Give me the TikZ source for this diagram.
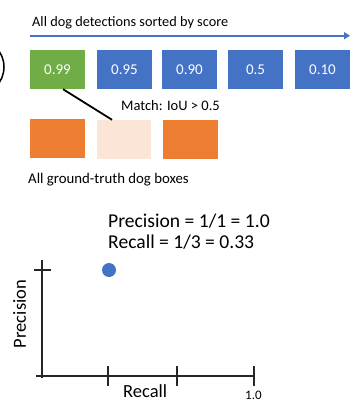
\documentclass[tikz,border=0pt]{standalone}
\usepackage{fontspec}
\setmainfont{Carlito}
\usetikzlibrary{calc,arrows.meta}
\definecolor{dgreen}{HTML}{70AD47}
\definecolor{dblue}{HTML}{4472C4}
\definecolor{gorange}{HTML}{ED7D31}
\definecolor{glight}{HTML}{FBE5D6}
\begin{document}
\begin{tikzpicture}[x=1pt,y=-1pt,
  det/.style={minimum width=55pt,minimum height=39pt,inner sep=0pt,text=white,font=\fontsize{15}{16}\selectfont},
  gt/.style={minimum width=55pt,minimum height=39pt,inner sep=0pt},
  lbl/.style={anchor=base west,inner sep=0pt},
  axis/.style={line width=1.5pt,black!85}
]
\useasboundingbox (0,0) rectangle (360,403);
\begin{scope}
\clip (0,0) rectangle (360,403);
\draw[line width=1.5pt] (-24,67) circle (28);
\end{scope}
% title and arrow
\node[lbl,font=\fontsize{14.3}{16}\selectfont] (title) at (32,26.7) {All dog detections sorted by score};
\coordinate (as) at (30,35.7);
\coordinate (ae) at (350,35.7);
\draw[dblue,line width=1.8pt,-{Triangle[length=6pt,width=7pt]}] (as) -- (ae);
% detections
\node[det,fill=dgreen] (d1) at (57.5,69.5) {0.99};
\node[det,fill=dblue] (d2) at (124.5,69.5) {0.95};
\node[det,fill=dblue] (d3) at (189.5,69.5) {0.90};
\node[det,fill=dblue] (d4) at (255.5,69.5) {0.5};
\node[det,fill=dblue] (d5) at (322.5,69.5) {0.10};
% ground truth
\node[gt,fill=gorange] (g1) at (57.5,138.5) {};
\node[gt,fill=glight,minimum width=54pt] (g2) at (124,139.5) {};
\node[gt,fill=gorange] (g3) at (190.5,139.5) {};
\draw[line width=1.8pt] ($(d1.south west)!0.6!(d1.south east)$) -- ($(g2.north west)!0.28!(g2.north east)$);
\node[lbl,font=\fontsize{14.5}{16}\selectfont] (match) at (121,110.5) {Match: IoU > 0.5};
\node[lbl,font=\fontsize{14.8}{16}\selectfont] (gtl) at (28,183) {All ground-truth dog boxes};
% formulas
\node[lbl,font=\fontsize{19.6}{21}\selectfont] (prec) at (108,227) {Precision = 1/1 = 1.0};
\node[lbl,font=\fontsize{19.6}{21}\selectfont] (rec) at (108,248.5) {Recall = 1/3 = 0.33};
% plot
\coordinate (ytop) at (42,260);
\coordinate (ybot) at (42,378);
\coordinate (xl) at (36,376);
\coordinate (xr) at (254,376);
\draw[axis] (ytop) -- (ybot);
\draw[axis] (xl) -- (xr);
\draw[axis] (34,270) -- (51,270);
\draw[axis] (108,366) -- (108,386);
\draw[axis] (177,366) -- (177,386);
\draw[axis] (254,366) -- (254,386);
\node[circle,fill=dblue,minimum size=14pt,inner sep=0pt] (pt) at (109,270) {};
\node[rotate=90,font=\fontsize{18.5}{20}\selectfont,inner sep=0pt] (ylab) at (19.5,314) {Precision};
\node[lbl,font=\fontsize{18.5}{20}\selectfont] (xlab) at (123,397) {Recall};
\node[lbl,font=\fontsize{13}{14}\selectfont] (one) at (245,399) {1.0};
\end{tikzpicture}
\end{document}
